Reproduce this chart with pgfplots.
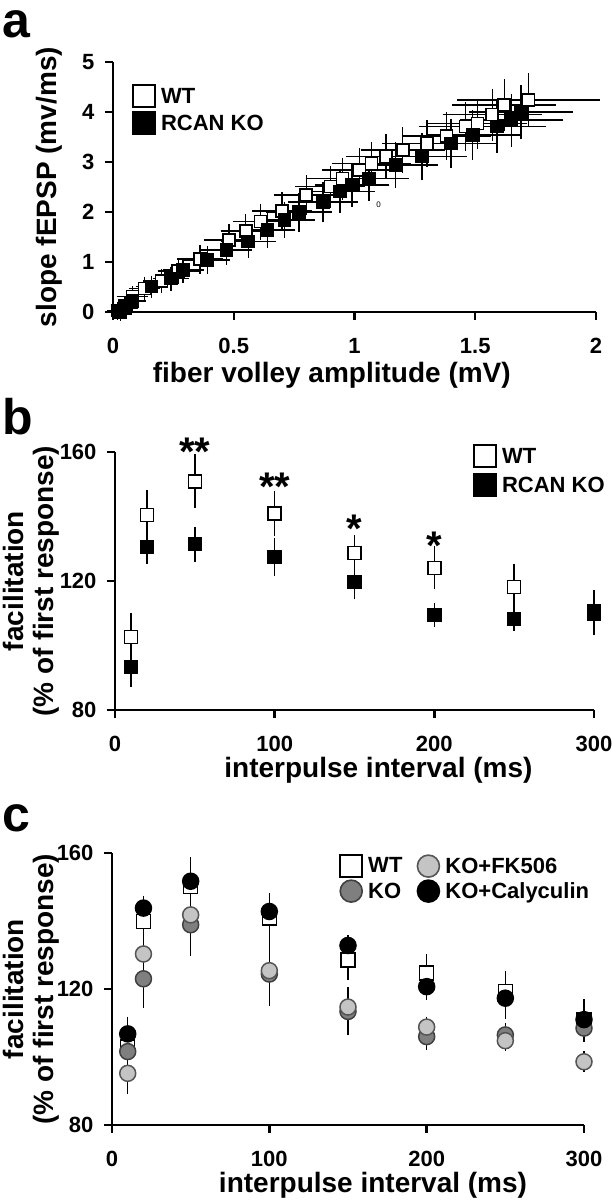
\documentclass[border=0pt]{standalone}
\usepackage{fontspec}
\setmainfont{Liberation Sans}
\usepackage{pgfplots}
\usepackage{pgfplotstable}
\pgfplotsset{compat=1.18}
\definecolor{koGray}{HTML}{7F7F7F}
\definecolor{fkGray}{HTML}{C4C4C4}
\definecolor{edgeGray}{HTML}{555555}

% panel a: x = fiber volley, y = slope, ex/ey = SEM
\pgfplotstableread{
x y ex ey
0.02 0.03 0.02 0.06
0.05 0.12 0.03 0.08
0.08 0.31 0.04 0.10
0.13 0.47 0.04 0.12
0.20 0.62 0.05 0.12
0.27 0.82 0.06 0.14
0.36 1.06 0.07 0.17
0.48 1.44 0.08 0.20
0.55 1.62 0.08 0.22
0.61 1.81 0.09 0.24
0.70 2.02 0.10 0.26
0.80 2.34 0.11 0.28
0.90 2.51 0.12 0.30
0.95 2.67 0.12 0.30
1.02 2.84 0.13 0.32
1.07 2.97 0.14 0.32
1.13 3.11 0.14 0.33
1.20 3.24 0.15 0.34
1.30 3.37 0.16 0.35
1.38 3.52 0.16 0.36
1.46 3.71 0.17 0.37
1.51 3.77 0.18 0.38
1.57 3.95 0.18 0.40
1.62 4.14 0.19 0.40
1.72 4.24 0.27 0.42
}\wta
\pgfplotstableread{
x y ex ey
0.03 0.00 0.02 0.05
0.05 0.08 0.03 0.07
0.08 0.22 0.03 0.09
0.16 0.51 0.04 0.10
0.24 0.67 0.05 0.12
0.29 0.84 0.06 0.13
0.39 1.04 0.07 0.16
0.47 1.24 0.08 0.18
0.56 1.41 0.09 0.21
0.64 1.64 0.09 0.23
0.71 1.84 0.10 0.24
0.77 2.00 0.11 0.27
0.87 2.20 0.12 0.28
0.94 2.41 0.12 0.30
0.99 2.54 0.13 0.31
1.06 2.67 0.14 0.33
1.17 2.94 0.15 0.34
1.28 3.11 0.16 0.35
1.40 3.37 0.16 0.37
1.49 3.54 0.17 0.38
1.59 3.71 0.18 0.40
1.65 3.84 0.19 0.41
1.69 4.00 0.19 0.42
}\koa

% panel b
\pgfplotstableread{
x y e
10 102.7 5.2
20 140.4 5.5
50 150.9 6.2
100 140.9 4.8
150 128.7 3.4
200 124.1 4.5
250 118.2 5.0
300 110.5 4.5
}\wtb
\pgfplotstableread{
x y e
10 93.4 4.0
20 130.6 3.3
50 131.4 3.2
100 127.5 3.8
150 119.7 3.2
200 109.4 1.5
250 108.2 1.5
300 110.0 4.7
}\kob

% panel c
\pgfplotstableread{
x y e
10 103.0 5.0
20 139.9 5.5
50 150.2 6.5
100 140.9 5.2
150 128.6 4.0
200 124.7 3.5
250 119.3 4.0
300 111.0 4.0
}\wtc
\pgfplotstableread{
x y e
10 101.6 3.0
20 123.0 6.5
50 138.9 7.0
100 124.4 7.2
150 113.4 5.0
200 106.0 2.0
250 106.5 1.5
300 108.5 2.0
}\koc
\pgfplotstableread{
x y e
10 95.2 4.0
20 130.3 2.8
50 141.8 2.5
100 125.4 4.6
150 114.7 3.0
200 108.8 1.0
250 104.8 1.0
300 98.6 1.0
}\fkc
\pgfplotstableread{
x y e
10 106.8 3.0
20 143.8 1.0
50 151.7 1.0
100 142.8 2.0
150 132.8 1.0
200 120.7 2.0
250 117.3 4.0
300 111.0 2.0
}\cac

\newcommand{\tickfont}{\fontsize{22}{22}\selectfont\bfseries}
\pgfplotsset{
  panel/.style={
    scale only axis, enlargelimits=false, clip=false,
    axis lines=left,
    axis line style={-, line width=2.4pt, black},
    tick style={black, line width=2.4pt},
    major tick length=8pt, tick align=outside,
    x tick label style={font=\tickfont, yshift=-15pt},
    y tick label style={font=\tickfont, xshift=-7pt},
    /pgf/number format/assume math mode=true,
    label style={font=\fontsize{28}{30}\selectfont\bfseries},
    legend style={draw=none, fill=none, inner sep=0pt,
      font=\fontsize{22}{22}\selectfont\bfseries, anchor=north west},
    legend cell align=left,
    legend image code/.code={\path[draw=none, fill=none] (0pt,0pt) -- (27pt,0pt);
      \draw[##1] plot coordinates {(12pt,0pt)};},
  },
  ebar/.style={error bars/.cd, y dir=both, y explicit,
    error bar style={line width=1.4pt, black},
    error mark options={line width=1.4pt, black, mark size=7pt}},
}

\begin{document}
\begin{tikzpicture}
\useasboundingbox (0pt,0pt) rectangle (612pt,-1200pt);

\node[anchor=base west, inner sep=0pt, font=\fontsize{50}{50}\selectfont\bfseries] at (2pt,-37pt) {a};
\node[anchor=base west, inner sep=0pt, font=\fontsize{50}{50}\selectfont\bfseries] at (2pt,-434pt) {b};
\node[anchor=base west, inner sep=0pt, font=\fontsize{50}{50}\selectfont\bfseries] at (2pt,-831pt) {c};

% ---- a ----
\begin{axis}[panel,
  at={(113pt,-312pt)}, anchor=south west,
  width=483pt, height=250pt,
  xmin=0, xmax=2, ymin=0, ymax=5,
  xtick={0,0.5,1,1.5,2}, ytick={0,1,2,3,4,5},
  xlabel={fiber volley amplitude (mV)},
  ylabel={slope fEPSP (mv/ms)},
  every axis x label/.append style={at={(axis description cs:0.453,-0.252)}, anchor=center},
  every axis y label/.append style={at={(axis description cs:-0.1325,0.5)}, anchor=center},
  legend style={at={(axis description cs:0.039,0.908)}, row sep=5pt},
]
\addplot[forget plot, only marks, mark=square*, mark size=6pt,
  mark options={fill=white, draw=black, line width=1.5pt},
  error bars/.cd, x dir=both, x explicit, y dir=both, y explicit,
  error bar style={line width=1.3pt, black},
  error mark options={line width=1.3pt, black, mark size=6pt}]
  table[x=x, y=y, x error=ex, y error=ey] {\wta};
\addplot[forget plot, only marks, mark=square*, mark size=6pt,
  mark options={fill=black, draw=black, line width=1.5pt},
  error bars/.cd, x dir=both, x explicit, y dir=both, y explicit,
  error bar style={line width=1.3pt, black},
  error mark options={line width=1.3pt, black, mark size=6pt}]
  table[x=x, y=y, x error=ex, y error=ey] {\koa};
\node[font=\fontsize{8}{8}\selectfont] at (axis cs:1.10,2.14) {0};
\addlegendimage{mark=square*, mark size=11pt, mark options={fill=white, draw=black, line width=1.6pt}}
\addlegendentry{WT}
\addlegendimage{mark=square*, mark size=11pt, mark options={fill=black, draw=black, line width=1.6pt}}
\addlegendentry{RCAN KO}
\end{axis}

% ---- b ----
\begin{axis}[panel,
  at={(115pt,-710pt)}, anchor=south west,
  width=479pt, height=258pt,
  xmin=0, xmax=300, ymin=80, ymax=160,
  xtick={0,100,200,300}, ytick={80,120,160},
  xlabel={interpulse interval (ms)},
  ylabel={facilitation\\(\% of first response)},
  every axis x label/.append style={at={(axis description cs:0.55,-0.235)}, anchor=center},
  every axis y label/.append style={at={(axis description cs:-0.175,0.5)}, anchor=center, align=center},
  legend style={at={(axis description cs:0.747,1.027)}, row sep=7pt},
]
\addplot[forget plot, only marks, mark=square*, mark size=6.5pt,
  mark options={fill=white, draw=black, line width=1.5pt}, ebar]
  table[x=x, y=y, y error=e] {\wtb};
\addplot[forget plot, only marks, mark=square*, mark size=6.5pt,
  mark options={fill=black, draw=black, line width=1.5pt}, ebar]
  table[x=x, y=y, y error=e] {\kob};
\node[anchor=north, inner sep=0pt, font=\fontsize{40}{40}\selectfont\bfseries] at (axis cs:50,164.3) {**};
\node[anchor=north, inner sep=0pt, font=\fontsize{40}{40}\selectfont\bfseries] at (axis cs:100,153.5) {**};
\node[anchor=north, inner sep=0pt, font=\fontsize{40}{40}\selectfont\bfseries] at (axis cs:150,140.5) {*};
\node[anchor=north, inner sep=0pt, font=\fontsize{40}{40}\selectfont\bfseries] at (axis cs:200,135.2) {*};
\addlegendimage{mark=square*, mark size=11pt, mark options={fill=white, draw=black, line width=1.6pt}}
\addlegendentry{WT}
\addlegendimage{mark=square*, mark size=11pt, mark options={fill=black, draw=black, line width=1.6pt}}
\addlegendentry{RCAN KO}
\end{axis}

% ---- c ----
\begin{axis}[panel,
  at={(112pt,-1125pt)}, anchor=south west,
  width=472pt, height=272pt,
  xmin=0, xmax=300, ymin=80, ymax=160,
  xtick={0,100,200,300}, ytick={80,120,160},
  xlabel={interpulse interval (ms)},
  ylabel={facilitation\\(\% of first response)},
  every axis x label/.append style={at={(axis description cs:0.553,-0.22)}, anchor=center},
  every axis y label/.append style={at={(axis description cs:-0.172,0.5)}, anchor=center, align=center},
  legend columns=2,
  legend style={at={(axis description cs:0.481,0.993)}, row sep=3pt,
    /tikz/every even column/.append style={column sep=12pt}},
]
\addplot[forget plot, only marks, mark=square*, mark size=7pt,
  mark options={fill=white, draw=black, line width=1.5pt}, ebar]
  table[x=x, y=y, y error=e] {\wtc};
\addplot[forget plot, only marks, mark=*, mark size=8pt,
  mark options={fill=koGray, draw=black!75, line width=1.5pt}, ebar]
  table[x=x, y=y, y error=e] {\koc};
\addplot[forget plot, only marks, mark=*, mark size=8pt,
  mark options={fill=fkGray, draw=edgeGray, line width=1.5pt}, ebar]
  table[x=x, y=y, y error=e] {\fkc};
\addplot[forget plot, only marks, mark=*, mark size=8pt,
  mark options={fill=black, draw=black, line width=1.5pt}, ebar]
  table[x=x, y=y, y error=e] {\cac};
\addlegendimage{mark=square*, mark size=11pt, mark options={fill=white, draw=black, line width=1.6pt}}
\addlegendentry{WT}
\addlegendimage{mark=*, mark size=11pt, mark options={fill=fkGray, draw=edgeGray, line width=1.6pt}}
\addlegendentry{KO+FK506}
\addlegendimage{mark=*, mark size=11pt, mark options={fill=koGray, draw=black!75, line width=1.6pt}}
\addlegendentry{KO}
\addlegendimage{mark=*, mark size=11pt, mark options={fill=black, draw=black, line width=1.6pt}}
\addlegendentry{KO+Calyculin}
\end{axis}
\end{tikzpicture}
\end{document}
